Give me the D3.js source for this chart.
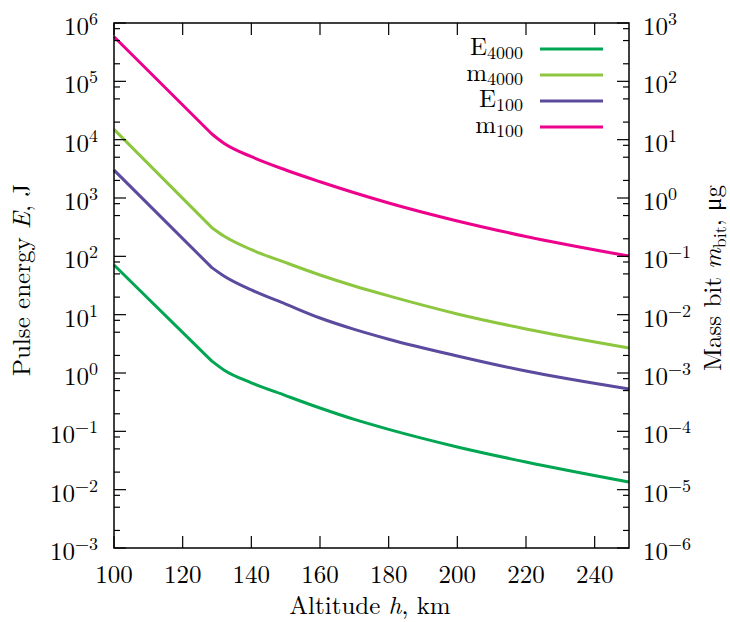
<!DOCTYPE html>
<html>
<head>
<meta charset="utf-8">
<script src="https://cdn.jsdelivr.net/npm/d3@7"></script>
<style>
  body { margin: 0; background: #fff; }
  svg text { font-family: "Latin Modern Roman", "CMU Serif", "Liberation Serif", serif; fill: #000; }
</style>
</head>
<body>
<div id="chart"></div>
<script>
// altitude grid, km
const altitude = [100, 128.5, 132, 140, 150, 160, 170, 180, 200, 220, 250];
// pulse energy, J (left axis)
const E4000 = [71, 1.6, 1.13, 0.68, 0.41, 0.251, 0.16, 0.108, 0.054, 0.0298, 0.0135];
const E100 = [3000, 64, 46, 26.5, 15.2, 8.77, 5.6, 3.8, 1.96, 1.08, 0.532];
// mass bit, ug (right axis)
const m4000 = [15, 0.31, 0.223, 0.13, 0.078, 0.0479, 0.031, 0.021, 0.0103, 0.00569, 0.00269];
const m100 = [580, 12.5, 8.67, 5.1, 3.02, 1.9, 1.23, 0.822, 0.404, 0.219, 0.101];

const xTicks = [100, 120, 140, 160, 180, 200, 220, 240];
const leftExp = [-3, -2, -1, 0, 1, 2, 3, 4, 5, 6];
const rightExp = [-6, -5, -4, -3, -2, -1, 0, 1, 2, 3];
const minorMult = [2, 5, 8];

const series = [
  {name: "E", sub: "4000", values: E4000, axis: "left", color: "#00a651"},
  {name: "m", sub: "4000", values: m4000, axis: "right", color: "#8dc63f"},
  {name: "E", sub: "100", values: E100, axis: "left", color: "#5c4a9e"},
  {name: "m", sub: "100", values: m100, axis: "right", color: "#ec008c"}
];

const width = 730, height = 622;
const pLeft = 114, pRight = 629, pTop = 23, pBottom = 548;

const svg = d3.select("#chart").append("svg")
  .attr("width", width).attr("height", height);

const x = d3.scaleLinear().domain([100, 250]).range([pLeft, pRight]);
const yL = d3.scaleLog().domain([1e-3, 1e6]).range([pBottom, pTop]);
const yR = d3.scaleLog().domain([1e-6, 1e3]).range([pBottom, pTop]);

const minus = e => e < 0 ? "\u2212" + (-e) : String(e);

// data lines: straight part up to the knee, smooth after it
const g = svg.append("g");
series.forEach(s => {
  const y = s.axis === "left" ? yL : yR;
  const pts = s.values.map((v, i) => [x(altitude[i]), y(v)]);
  const straight = d3.line()(pts.slice(0, 2));
  const smooth = d3.line().curve(d3.curveMonotoneX)(pts.slice(1));
  g.append("path")
    .attr("d", straight + smooth.replace(/^M/, "L"))
    .attr("fill", "none")
    .attr("stroke", s.color)
    .attr("stroke-width", 3)
    .attr("stroke-linejoin", "round");
});

// ticks
const ticks = svg.append("g").attr("stroke", "#000").attr("stroke-width", 1.2);
xTicks.forEach(t => {
  ticks.append("line").attr("x1", x(t)).attr("x2", x(t)).attr("y1", pBottom).attr("y2", pBottom - 12);
  ticks.append("line").attr("x1", x(t)).attr("x2", x(t)).attr("y1", pTop).attr("y2", pTop + 12);
});
leftExp.forEach(e => {
  ticks.append("line").attr("x1", pLeft).attr("x2", pLeft + 12).attr("y1", yL(Math.pow(10, e))).attr("y2", yL(Math.pow(10, e)));
  if (e < 6) minorMult.forEach(m => {
    const yy = yL(m * Math.pow(10, e));
    ticks.append("line").attr("x1", pLeft).attr("x2", pLeft + 6).attr("y1", yy).attr("y2", yy);
  });
});
rightExp.forEach(e => {
  ticks.append("line").attr("x1", pRight).attr("x2", pRight - 12).attr("y1", yR(Math.pow(10, e))).attr("y2", yR(Math.pow(10, e)));
  if (e < 3) minorMult.forEach(m => {
    const yy = yR(m * Math.pow(10, e));
    ticks.append("line").attr("x1", pRight).attr("x2", pRight - 6).attr("y1", yy).attr("y2", yy);
  });
});

// border
svg.append("rect")
  .attr("x", pLeft).attr("y", pTop)
  .attr("width", pRight - pLeft).attr("height", pBottom - pTop)
  .attr("fill", "none").attr("stroke", "#000").attr("stroke-width", 1.5);

// tick labels
const fs = 25, fsSmall = 18;
xTicks.forEach(t => {
  svg.append("text").attr("x", x(t)).attr("y", pBottom + 35)
    .attr("text-anchor", "middle").attr("font-size", fs).text(t);
});

function powLabel(xp, yp, e, anchor) {
  const t = svg.append("text").attr("x", xp).attr("y", yp)
    .attr("text-anchor", anchor).attr("font-size", fs);
  t.append("tspan").text("10");
  t.append("tspan").attr("font-size", fsSmall).attr("dy", -10).text(minus(e));
}
leftExp.forEach(e => powLabel(98, yL(Math.pow(10, e)) + 12, e, "end"));
rightExp.forEach(e => powLabel(643, yR(Math.pow(10, e)) + 12, e, "start"));

// axis titles
const xt = svg.append("text").attr("x", 370).attr("y", 614)
  .attr("text-anchor", "middle").attr("font-size", fs);
xt.append("tspan").text("Altitude ");
xt.append("tspan").attr("font-style", "italic").text("h");
xt.append("tspan").text(", km");

const yt = svg.append("text")
  .attr("transform", `translate(30,280) rotate(-90)`)
  .attr("text-anchor", "middle").attr("font-size", fs);
yt.append("tspan").text("Pulse energy ");
yt.append("tspan").attr("font-style", "italic").text("E");
yt.append("tspan").text(", J");

const rt = svg.append("text")
  .attr("transform", `translate(721,278) rotate(-90)`)
  .attr("text-anchor", "middle").attr("font-size", fs);
rt.append("tspan").text("Mass bit ");
rt.append("tspan").attr("font-style", "italic").text("m");
rt.append("tspan").attr("font-size", fsSmall).attr("dy", 5).text("bit");
rt.append("tspan").attr("dy", -5).text(", \u03bcg");

// legend
const legend = svg.append("g");
series.forEach((s, i) => {
  const ly = 49 + i * 26;
  const t = legend.append("text").attr("x", 523).attr("y", ly + 6)
    .attr("text-anchor", "end").attr("font-size", fs);
  t.append("tspan").text(s.name);
  t.append("tspan").attr("font-size", fsSmall).attr("dy", 4).text(s.sub);
  legend.append("line")
    .attr("x1", 540).attr("x2", 603).attr("y1", ly).attr("y2", ly)
    .attr("stroke", s.color).attr("stroke-width", 3);
});
</script>
</body>
</html>
